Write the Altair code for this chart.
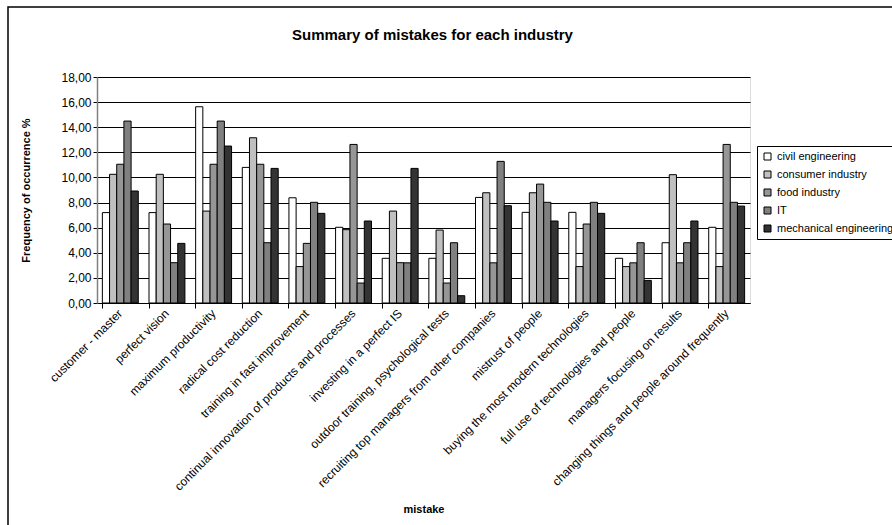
import altair as alt
import pandas as pd

categories = [
    "customer - master", "perfect vision", "maximum productivity", "radical cost reduction",
    "training in fast improvement", "continual innovation of products and processes",
    "investing in a perfect IS", "outdoor training, psychological tests",
    "recruiting top managers from other companies", "mistrust of people",
    "buying the most modern technologies", "full use of technologies and people",
    "managers focusing on results", "changing things and people around frequently",
]
series = ["civil engineering", "consumer industry", "food industry", "IT", "mechanical engineering"]
civil = [7.20, 7.20, 15.63, 10.80, 8.38, 6.03, 3.56, 3.56, 8.41, 7.22, 7.22, 3.56, 4.80, 6.03]
consumer = [10.25, 10.25, 7.32, 13.16, 2.90, 5.84, 7.32, 5.81, 8.78, 8.78, 2.90, 2.90, 10.22, 2.90]
food = [11.05, 6.29, 11.05, 11.05, 4.75, 12.63, 3.21, 1.59, 3.20, 9.47, 6.29, 3.20, 3.20, 12.63]
it = [14.49, 3.21, 14.49, 4.80, 8.02, 1.59, 3.20, 4.80, 11.28, 8.02, 8.02, 4.80, 4.80, 8.02]
mech = [8.92, 4.75, 12.50, 10.72, 7.14, 6.53, 10.72, 0.58, 7.75, 6.53, 7.14, 1.80, 6.53, 7.72]
colors = ["#ffffff", "#c0c0c0", "#969696", "#808080", "#333333"]
y_ticks = [0, 2, 4, 6, 8, 10, 12, 14, 16, 18]

rows = []
for s, vals in zip(series, [civil, consumer, food, it, mech]):
    for c, v in zip(categories, vals):
        rows.append({"mistake": c, "industry": s, "value": v})
df = pd.DataFrame(rows)

FONT = "Liberation Sans"

xscale = alt.Scale(paddingInner=0.23, paddingOuter=0.115)

bars = alt.Chart(df).mark_bar(stroke="#000000", strokeWidth=1).encode(
    x=alt.X("mistake:N", sort=categories, scale=xscale,
            axis=alt.Axis(title="mistake", labelAngle=-45, labelAlign="right", labelBaseline="middle",
                          labelFont=FONT, labelFontSize=12, labelColor="#000000", labelPadding=8,
                          ticks=False, domain=True, domainColor="#000000", grid=False,
                          titleFont=FONT, titleFontSize=11, titleFontWeight="bold", titleColor="#000000",
                          titleY=200, orient="bottom", labelLimit=400)),
    xOffset=alt.XOffset("industry:N", sort=series, scale=alt.Scale(paddingInner=0, paddingOuter=0)),
    y=alt.Y("value:Q", scale=alt.Scale(domain=[0, 18], nice=False),
            axis=alt.Axis(title="Frequency of occurrence %", values=y_ticks,
                          labelExpr="replace(format(datum.value, '.2f'), '.', ',')",
                          labelFont=FONT, labelFontSize=12, labelColor="#000000",
                          grid=True, gridColor="#000000", gridWidth=1,
                          domainColor="#808080", domainWidth=1.5, tickColor="#000000", tickSize=4,
                          titleFont=FONT, titleFontSize=11, titleFontWeight="bold", titleColor="#000000",
                          titleX=-66)),
    color=alt.Color("industry:N", sort=series, scale=alt.Scale(domain=series, range=colors),
                    legend=alt.Legend(title=None, orient="none", legendX=660, legendY=69,
                                      strokeColor="#000000", fillColor="#ffffff", padding=5,
                                      symbolType="square", symbolSize=49, symbolStrokeColor="#000000",
                                      symbolStrokeWidth=1, labelFont=FONT, labelFontSize=11,
                                      labelColor="#000000", rowPadding=6)),
)

ticks_layer = alt.Chart(df).mark_tick(opacity=0).encode(
    x=alt.X("mistake:N", sort=categories, scale=xscale,
            axis=alt.Axis(bandPosition=0, labels=False, title=None, ticks=True, tickSize=5,
                          tickColor="#000000", domain=False, grid=False, orient="bottom")),
)

frame = alt.Chart(alt.Data(values=[{}])).mark_rect(fillOpacity=0, stroke="#000000", strokeWidth=1.5).encode(
    x=alt.value(-89), x2=alt.value(900), y=alt.value(-70), y2=alt.value(460)
)

chart = alt.layer(frame, bars, ticks_layer).resolve_axis(x="independent").properties(
    width=653, height=226,
    padding={"left": 97, "top": 77, "right": 142, "bottom": 222},
    autosize=alt.AutoSizeParams(type="none"),
    title=alt.TitleParams("Summary of mistakes for each industry", font=FONT, fontSize=15,
                          fontWeight="bold", color="#000000", anchor="middle", offset=-37, dx=9),
).configure_view(stroke="#808080").configure(background="#ffffff")

chart.save("out.html", embed_options={"renderer": "svg", "actions": False})
